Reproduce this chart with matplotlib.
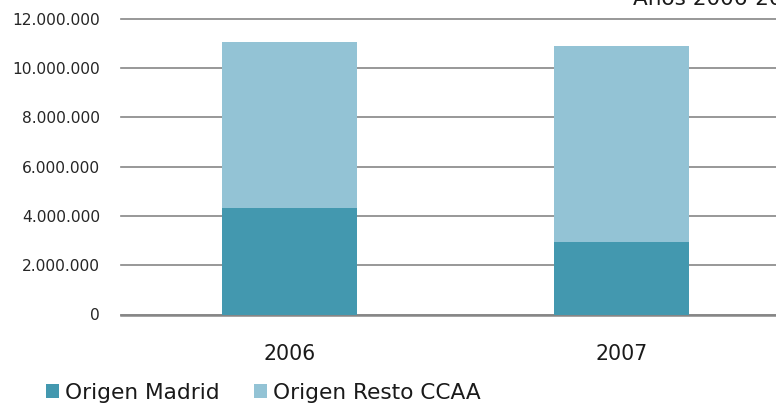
import matplotlib
matplotlib.use("Agg")
import matplotlib.pyplot as plt
from matplotlib.ticker import FuncFormatter

years = ["2006", "2007"]
origen_madrid = [4330000, 2950000]
origen_resto = [6740000, 7950000]
yticks = [0, 2000000, 4000000, 6000000, 8000000, 10000000, 12000000]
series_names = ["Origen Madrid", "Origen Resto CCAA"]
title = "Años 2006-2007"

c_madrid = "#4398AF"
c_resto = "#93C3D5"

W, H = 776, 403
fig = plt.figure(figsize=(W / 100, H / 100), dpi=100)

# axes geometry in pixels
left_px = 121
cat_px = 332
xmin, xmax = -0.507, 1.5
ax_w = (xmax - xmin) * cat_px
bottom_px = 314.5
top_px = 19
ax = fig.add_axes([left_px / W, 1 - bottom_px / H, ax_w / W, (bottom_px - top_px) / H])

x = list(range(len(years)))
bw = 0.405
ax.bar(x, origen_madrid, width=bw, color=c_madrid, zorder=3, label=series_names[0])
ax.bar(x, origen_resto, width=bw, bottom=origen_madrid, color=c_resto, zorder=3, label=series_names[1])

ax.set_xlim(xmin, xmax)
ax.set_ylim(0, 12000000)
ax.set_yticks(yticks)
ax.yaxis.set_major_formatter(FuncFormatter(lambda v, p: f"{int(v):,}".replace(",", ".")))
ax.set_xticks(x)
ax.set_xticklabels(years)

for s in ax.spines.values():
    s.set_visible(False)
ax.grid(axis="y", color="#868686", linewidth=1.2, zorder=1)
for gl in ax.get_ygridlines():
    gl.set_clip_on(False)
ax.axhline(0, color="#868686", linewidth=1.8, zorder=2, clip_on=False)
ax.tick_params(axis="y", length=0, pad=15, labelsize=11.2, labelcolor="#262626")
ax.tick_params(axis="x", length=0, pad=21, labelsize=14.8, labelcolor="#1a1a1a")

fig.text(633 / W, 1 - 5 / H, title, ha="left", va="baseline", fontsize=15.5, color="#1a1a1a")

handles, labels = ax.get_legend_handles_labels()
fig.legend(handles, labels, loc="center left", bbox_to_anchor=(46 / W, 1 - 393 / H),
           ncol=2, frameon=False, fontsize=15.6, handlelength=0.6, handleheight=0.6,
           handletextpad=0.28, columnspacing=1.6, borderpad=0, borderaxespad=0,
           labelcolor="#1a1a1a")

fig.savefig("out.png", dpi=100)
